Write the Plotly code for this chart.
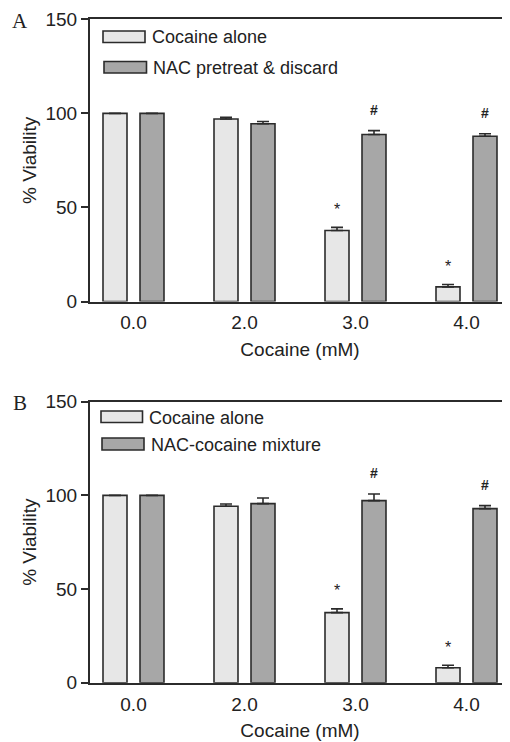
import plotly.graph_objects as go

# ---------------- data ----------------
categories = ["0.0", "2.0", "3.0", "4.0"]
series_names_A = ["Cocaine alone", "NAC pretreat & discard"]
series_names_B = ["Cocaine alone", "NAC-cocaine mixture"]

A_alone = [100, 97, 37.7, 7.8]
A_alone_err = [0, 0.9, 1.7, 1.2]
A_nac = [100, 94.5, 88.8, 87.8]
A_nac_err = [0, 1.2, 2.0, 1.4]

B_alone = [100, 94.2, 37.4, 8.0]
B_alone_err = [0, 1.2, 2.0, 1.3]
B_nac = [100, 95.6, 97.2, 92.9]
B_nac_err = [0, 3.0, 3.5, 1.6]

sig_alone = ["", "", "*", "*"]
sig_nac = ["", "", "#", "#"]

y_ticks = [0, 50, 100, 150]
panel_labels = ["A", "B"]
x_title = "Cocaine (mM)"
y_title = "% Viability"

# ---------------- style ----------------
PAGE_OFF = 8             # default body margin of the html page
W, H = 510 - PAGE_OFF, 742 - PAGE_OFF
LEFT = 90                # y-axis position in window pixels
PLOT_W = 510 - LEFT
LIGHT = "#e7e7e7"
DARK = "#a7a7a7"
EDGE = "#2b2b2b"
TXT = "#222222"
FONT = "Liberation Sans, Arial, sans-serif"

SPACING = 111.0          # px between categories
BAR_W = 24 / SPACING
OFF_L = -30.5 / SPACING
OFF_R = 6.5 / SPACING
X_RANGE = [-(133.5 - LEFT) / SPACING, 3 + 43.5 / SPACING]

def py(p):
    return 1 - (p - PAGE_OFF) / H

def px(p):
    return (p - LEFT) / PLOT_W

fig = go.Figure()

panels = [
    ("x", "y", A_alone, A_alone_err, A_nac, A_nac_err, series_names_A),
    ("x2", "y2", B_alone, B_alone_err, B_nac, B_nac_err, series_names_B),
]

annotations = []
shapes = []

for xa, ya, alone, alone_err, nac, nac_err, names in panels:
    for vals, errs, off, color, name in [
        (alone, alone_err, OFF_L, LIGHT, names[0]),
        (nac, nac_err, OFF_R, DARK, names[1]),
    ]:
        fig.add_trace(go.Bar(
            x=categories, y=vals, name=name, xaxis=xa, yaxis=ya,
            width=BAR_W, offset=off,
            marker=dict(color=color, line=dict(color=EDGE, width=1.6)),
            error_y=dict(type="data", symmetric=False, array=errs,
                         arrayminus=[0] * len(errs), color=EDGE,
                         thickness=1.6, width=6),
            showlegend=False,
        ))
    # significance marks (x given as category index)
    for i, c in enumerate(categories):
        for vals, errs, sig, shift, fs, txt in [
            (alone, alone_err, sig_alone, -18.5, 16, sig_alone[i]),
            (nac, nac_err, sig_nac, 18.5, 14, "<b>%s</b>" % sig_nac[i]),
        ]:
            if sig[i]:
                annotations.append(dict(
                    x=i, y=vals[i] + errs[i], xref=xa, yref=ya,
                    text=txt, showarrow=False, xshift=shift,
                    yshift=18 if sig[i] == "*" else 21,
                    yanchor="middle", xanchor="center",
                    font=dict(family=FONT, size=fs, color=TXT),
                ))

# manual legends (wide swatches like the original)
legend_specs = [
    (103, 145, 31, 42.5, 150, 37, series_names_A[0], LIGHT),
    (104, 146.5, 61.5, 73, 151, 68, series_names_A[1], DARK),
    (101, 142.5, 411, 422.5, 147, 418, series_names_B[0], LIGHT),
    (102, 144, 438, 450, 149, 444.5, series_names_B[1], DARK),
]
for x0, x1, y0, y1, tx, ty, name, color in legend_specs:
    shapes.append(dict(type="rect", xref="paper", yref="paper",
                       x0=px(x0), x1=px(x1), y0=py(y1), y1=py(y0),
                       fillcolor=color, line=dict(color=EDGE, width=1.6)))
    annotations.append(dict(x=px(tx), y=py(ty), xref="paper", yref="paper",
                            text=name, showarrow=False, xanchor="left",
                            yanchor="middle",
                            font=dict(family=FONT, size=18, color=TXT)))

# panel letters
for lab, (lx, ly) in zip(panel_labels, [(10, 21), (11, 403)]):
    annotations.append(dict(x=px(lx), y=py(ly), xref="paper", yref="paper",
                            text=lab, showarrow=False, xanchor="left",
                            yanchor="middle",
                            font=dict(family="Liberation Serif, Times New Roman, serif",
                                      size=21, color=TXT)))

def xaxis(anchor):
    return dict(
        anchor=anchor, domain=[0, 1], type="category", automargin=False,
        range=X_RANGE, showline=True, mirror=True, linecolor=EDGE, linewidth=2,
        ticks="outside", ticklen=3, tickcolor="rgba(0,0,0,0)",
        showgrid=False, zeroline=False,
        tickfont=dict(family=FONT, size=19, color=TXT),
        title=dict(text=x_title, font=dict(family=FONT, size=19, color=TXT),
                   standoff=10),
    )

def yaxis(domain, anchor):
    return dict(
        anchor=anchor, domain=domain, range=[0, 150], tickvals=y_ticks,
        automargin=False,
        showline=True, linecolor=EDGE, linewidth=2, ticks="outside",
        ticklen=7, tickwidth=2, tickcolor=EDGE, showgrid=False, zeroline=False,
        tickfont=dict(family=FONT, size=19, color=TXT),
        title=dict(text=y_title, font=dict(family=FONT, size=19, color=TXT),
                   standoff=4),
    )

fig.update_layout(
    width=W, height=H,
    margin=dict(l=LEFT - PAGE_OFF, r=0, t=0, b=0, autoexpand=False),
    paper_bgcolor="white", plot_bgcolor="white",
    xaxis=xaxis("y"),
    xaxis2=xaxis("y2"),
    yaxis=yaxis([py(301.5), py(19.3)], "x"),
    yaxis2=yaxis([py(682.7), py(401.7)], "x2"),
    annotations=annotations,
    shapes=shapes,
    showlegend=False,
    font=dict(family=FONT, color=TXT),
)

fig.write_html("out.html")
